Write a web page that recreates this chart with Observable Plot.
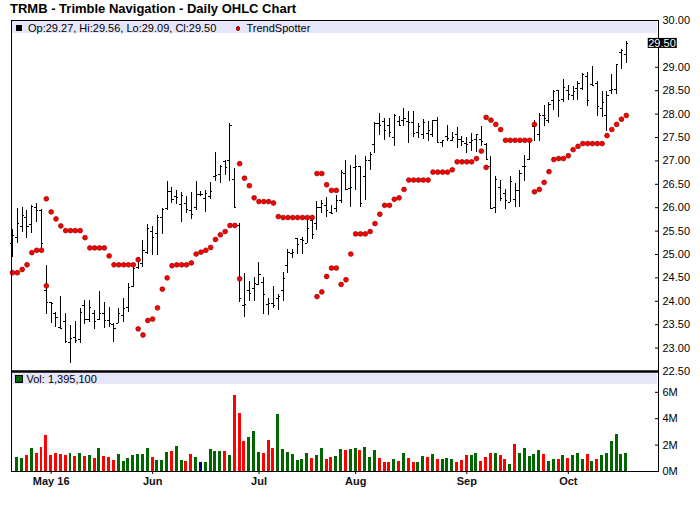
<!DOCTYPE html>
<html><head><meta charset="utf-8">
<script src="https://cdn.jsdelivr.net/npm/d3@7"></script>
<script src="https://cdn.jsdelivr.net/npm/@observablehq/plot@0.6"></script>
<style>
body{margin:0;background:#fff;font-family:"Liberation Sans",Arial,sans-serif;color:#000;}
#wrap{position:relative;width:700px;height:512px;overflow:hidden;background:#fff;}
#wrap svg{position:absolute;left:0;}
#title{position:absolute;left:10px;top:0.5px;font-weight:bold;font-size:13px;line-height:15px;white-space:nowrap;}
.band{position:absolute;left:12px;width:645px;background:#e6e6fa;}
.lbl{position:absolute;font-size:11px;line-height:12px;white-space:nowrap;}
.sq{position:absolute;}
</style></head>
<body>
<div id="wrap">
  <div id="title">TRMB - Trimble Navigation - Daily OHLC Chart</div>
</div>
<script>
// ---- data (Apr 20 2016 .. Oct 19 2016, trading-day index) ----
const open = [25.23,25.36,25.60,25.80,25.64,26.00,25.93,24.23,23.97,23.73,
23.44,23.56,23.11,23.22,23.19,23.91,23.62,23.75,23.62,23.73,
23.59,23.50,23.53,23.70,23.87,24.31,24.73,24.80,25.05,25.50,
25.44,25.79,25.99,26.35,26.24,26.06,26.10,25.95,26.00,26.29,
26.19,26.23,26.67,26.71,26.98,27.00,26.61,25.62,23.91,24.23,
24.28,24.36,24.41,23.93,23.95,24.05,24.23,24.76,25.03,25.34,
25.32,25.24,25.73,25.67,26.00,26.05,25.89,25.98,26.16,26.74,
26.41,26.86,26.87,26.66,27.00,27.34,27.79,27.84,27.76,27.51,
27.84,27.87,27.84,27.81,27.61,27.57,27.59,27.57,27.87,27.39,
27.53,27.44,27.57,27.46,27.37,27.39,27.46,27.46,27.34,26.87,
26.00,26.44,26.30,26.12,26.17,26.37,26.89,27.04,27.73,27.57,
27.96,27.87,28.30,28.50,28.31,28.51,28.39,28.55,28.55,28.80,
28.64,28.66,28.12,27.98,28.51,28.53,29.31,29.27];
const high = [25.54,25.98,26.00,25.94,26.05,26.09,25.96,24.76,23.98,23.76,
24.10,23.75,23.48,23.56,23.84,24.01,24.01,23.80,24.21,23.97,
23.87,23.52,23.84,24.05,24.39,24.78,24.94,25.29,25.64,25.59,
25.84,25.98,26.55,26.43,26.37,26.33,26.24,26.33,26.56,26.34,
26.37,26.54,27.17,26.91,27.01,27.80,26.84,25.66,24.59,24.42,
24.51,24.82,24.51,24.06,24.31,24.14,24.61,25.10,25.10,25.35,
25.37,25.80,25.84,26.14,26.16,26.21,26.05,26.27,26.80,27.00,
26.91,27.12,26.89,27.09,27.19,27.82,28.01,27.91,27.91,27.99,
27.94,28.11,28.05,28.06,27.80,27.89,27.84,27.87,27.93,27.44,
27.75,27.61,27.72,27.53,27.51,27.59,27.57,27.73,27.37,27.10,
26.67,26.59,26.39,26.67,26.51,26.80,27.12,27.46,27.87,28.01,
28.19,28.24,28.50,28.51,28.73,28.62,28.60,28.69,28.86,28.89,
29.01,28.69,28.48,28.48,28.84,29.05,29.39,29.56];
const low = [24.94,25.24,25.48,25.35,25.44,25.69,25.09,23.71,23.53,23.44,
23.41,23.10,22.68,23.09,23.10,23.51,23.55,23.39,23.60,23.42,
23.44,23.12,23.52,23.55,23.77,24.30,24.69,24.73,24.99,24.98,
24.98,25.43,25.93,26.10,26.07,25.69,25.87,25.75,25.94,26.23,
25.89,26.18,26.55,26.51,26.69,26.55,26.00,23.98,23.66,23.99,
23.99,24.34,23.71,23.69,23.84,23.80,24.00,24.60,24.91,25.00,
25.00,25.23,25.32,25.52,25.87,25.79,25.85,25.89,26.10,26.37,
26.00,26.37,26.00,26.16,26.80,27.16,27.55,27.43,27.51,27.30,
27.73,27.74,27.37,27.51,27.48,27.46,27.42,27.51,27.37,27.28,
27.41,27.41,27.27,27.31,27.16,27.21,27.18,27.30,27.03,25.96,
25.87,26.14,25.96,26.11,26.01,26.01,26.57,27.01,27.41,27.41,
27.73,27.80,28.08,27.92,28.24,28.30,28.29,28.30,28.51,28.16,
28.60,27.94,27.93,27.63,28.42,28.42,28.96,29.09];
const close = [25.41,25.66,25.83,25.60,26.02,25.94,25.23,23.98,23.95,23.66,
23.42,23.14,23.21,23.17,23.77,23.62,23.87,23.57,23.74,23.59,
23.53,23.41,23.73,23.85,24.30,24.71,24.89,25.09,25.55,25.36,
25.80,25.96,26.35,26.17,26.22,26.26,25.96,25.85,26.28,26.28,
26.30,26.35,26.69,26.87,26.85,27.76,26.01,24.07,23.93,24.16,
24.39,24.57,24.14,23.96,23.90,24.10,24.48,25.04,25.05,25.22,
25.29,25.56,25.43,26.00,26.09,25.94,25.87,26.16,26.76,26.39,
26.44,26.87,26.09,27.00,27.14,27.80,27.76,27.64,27.60,27.96,
27.76,27.91,27.81,27.59,27.74,27.81,27.66,27.86,27.39,27.43,
27.48,27.50,27.46,27.41,27.36,27.44,27.56,27.41,27.04,25.98,
26.60,26.19,26.15,26.55,26.37,26.73,26.87,27.42,27.78,27.98,
27.91,28.21,28.48,28.30,28.57,28.41,28.48,28.66,28.85,28.30,
28.62,28.17,28.25,28.39,28.53,29.05,29.35,29.50];
const volumeM = [null,1.06,0.98,1.21,1.74,1.36,1.82,2.73,1.21,1.36,
1.29,1.21,1.36,1.14,1.36,1.14,1.21,0.98,1.74,1.14,
1.06,0.83,1.29,0.76,0.98,1.21,1.29,1.29,1.74,1.06,
0.83,0.83,1.44,1.52,1.89,0.83,0.76,1.29,1.06,0.68,
0.68,1.67,1.52,1.52,1.52,1.21,5.76,4.39,2.27,2.58,
3.03,1.44,1.36,2.35,1.74,4.32,1.67,1.44,1.29,0.83,
0.91,1.36,0.98,1.21,1.74,0.91,1.06,1.14,1.67,1.59,
1.67,1.74,1.59,1.82,1.06,1.59,0.98,0.68,0.68,0.91,
0.76,1.36,0.98,0.68,0.68,1.14,1.06,1.29,0.91,0.91,
0.98,0.91,0.68,0.83,1.21,1.21,1.36,0.76,1.06,1.36,
1.36,1.21,0.91,0.53,2.05,1.36,1.74,1.14,1.29,1.59,
1.29,0.76,0.91,0.91,1.21,0.98,1.21,1.36,0.91,1.29,
0.76,0.91,1.21,1.36,2.27,2.80,1.29,1.3951];
const trendMain = [24.61,24.61,24.68,24.78,25.04,25.09,25.09,26.19,25.91,25.76,
25.61,25.51,25.51,25.51,25.51,25.36,25.14,25.14,25.14,25.14,
24.97,24.78,24.78,24.78,24.78,24.78,23.41,23.28,23.59,23.62,
23.86,24.26,24.50,24.76,24.78,24.78,24.78,24.82,25.01,25.05,
25.09,25.15,25.32,25.42,25.49,25.62,25.62,26.94,26.63,26.47,
26.21,26.13,26.13,26.13,26.10,25.81,25.79,25.79,25.79,25.79,
25.79,25.79,25.79,24.10,24.20,24.53,24.71,24.71,24.36,24.46,
25.01,25.44,25.44,25.44,25.49,25.66,25.86,26.05,26.05,26.18,
26.21,26.39,26.59,26.59,26.59,26.59,26.59,26.76,26.76,26.76,
26.76,26.81,26.98,26.98,26.98,26.98,27.05,27.21,27.93,27.87,
27.78,27.67,27.44,27.44,27.44,27.44,27.44,27.44,26.34,26.39,
26.54,26.77,27.03,27.05,27.05,27.11,27.24,27.31,27.37,27.37,
27.37,27.37,27.37,27.54,27.67,27.78,27.89,27.97];
const trendAltIdx = [7,26,47,63,64,65,66,67,98,108];
const trendAltVal = [24.33,24.89,24.48,26.73,26.73,26.49,26.37,26.37,26.86,27.78];
const monthTickIdx = [8,29,51,71,94,115];
const monthLabels = ["May 16","Jun","Jul","Aug","Sep","Oct"];
const priceTicks = [22.5,23,23.5,24,24.5,25,25.5,26,26.5,27,27.5,28,28.5,29,29.5,30];
const volTicks = [0,2,4,6];
const lastVolume = 1395100;

// ---- build ----
const N = close.length;
const lastClose = close[N-1];
const bars = d3.range(N).map(i => ({i, o: open[i], h: high[i], l: low[i], c: close[i]}));
const dots = trendMain.map((v, i) => ({i, v}))
  .concat(trendAltIdx.map((i, k) => ({i, v: trendAltVal[k]})));
const volData = d3.range(N).filter(i => volumeM[i] != null).map(i => ({
  i, v: volumeM[i],
  col: i === 0 ? "#006600" : close[i] > close[i-1] ? "#006600" : close[i] < close[i-1] ? "#ff0000" : "#000080"
}));
const xDomain = [-0.207, 133.66];
const font = "'Liberation Sans', Arial, sans-serif";

const price = Plot.plot({
  width: 700, height: 372, marginTop: 20, marginBottom: 1, marginLeft: 11, marginRight: 42,
  x: {domain: xDomain, axis: null},
  y: {domain: [22.5, 30], axis: null},
  style: {background: "transparent", fontFamily: font, fontSize: "11px", overflow: "visible"},
  marks: [
    Plot.ruleX(bars, {x: "i", y1: "l", y2: "h", stroke: "#000", strokeWidth: 1, shapeRendering: "crispEdges"}),
    Plot.ruleY(bars, {y: "o", x1: d => d.i - 0.42, x2: "i", stroke: "#000", strokeWidth: 1, shapeRendering: "crispEdges"}),
    Plot.ruleY(bars, {y: "c", x1: "i", x2: d => d.i + 0.42, stroke: "#000", strokeWidth: 1, shapeRendering: "crispEdges"}),
    Plot.dot(dots, {x: "i", y: "v", r: 2.4, fill: "#ff0000", stroke: "#8b0000", strokeWidth: 0.7}),
    Plot.axisY({anchor: "right", ticks: priceTicks, label: null,
      tickFormat: d => (Math.abs(d - lastClose) < 1e-9 ? "" : d.toFixed(2)),
      tickSize: 4, dx: -4, tickPadding: 4, fill: "#000", stroke: "#000"}),
    Plot.frame({stroke: "#000", shapeRendering: "crispEdges"}),
    Plot.ruleY([22.5], {stroke: "#000", strokeWidth: 2.5})
  ]
});
price.style.top = "0px";

const vol = Plot.plot({
  width: 700, height: 141, marginTop: 0, marginBottom: 41, marginLeft: 11, marginRight: 42,
  x: {domain: xDomain, axis: null},
  y: {domain: [0, 7.576], axis: null},
  style: {background: "transparent", fontFamily: font, fontSize: "11px", overflow: "visible"},
  marks: [
    Plot.rectY(volData, {x1: d => d.i - 0.31, x2: d => d.i + 0.31, y1: 0, y2: "v", fill: "col", shapeRendering: "crispEdges"}),
    Plot.axisY({anchor: "right", ticks: volTicks, label: null, tickFormat: d => d + "M", tickSize: 4, dx: -4, tickPadding: 4}),
    Plot.axisX({anchor: "bottom", ticks: monthTickIdx, label: null, tickFormat: d => monthLabels[monthTickIdx.indexOf(d)], tickSize: 3, tickPadding: 3, fontWeight: "bold", fill: "#111"}),
    Plot.frame({stroke: "#000", shapeRendering: "crispEdges"})
  ]
});
vol.style.top = "371px";

const wrap = document.getElementById("wrap");
wrap.appendChild(price);
wrap.appendChild(vol);

// current-close highlight on the price axis
{
  const yPix = price.scale("y").apply(lastClose);
  const xPix = price.scale("x").range[1];
  const g = d3.select(price).append("g");
  const t = g.append("text").attr("x", xPix + 4).attr("y", yPix).attr("dy", "0.32em")
    .attr("fill", "#fff").attr("font-size", 11).text(lastClose.toFixed(2));
  const bb = t.node().getBBox();
  g.insert("rect", "text").attr("x", bb.x - 0.5).attr("y", bb.y + 1).attr("width", bb.width + 1.5).attr("height", bb.height - 2).attr("fill", "#000");
}

// legends (HTML overlays)
function el(tag, cls, styles, text) {
  const e = document.createElement(tag);
  if (cls) e.className = cls;
  Object.assign(e.style, styles);
  if (text != null) e.textContent = text;
  wrap.appendChild(e);
  return e;
}
el("div", "band", {top: "21px", height: "12px"});
el("div", "sq", {left: "16px", top: "25px", width: "6px", height: "6px", background: "#000"});
el("div", "lbl", {left: "28px", top: "22px"},
  `Op:${open[N-1].toFixed(2)}, Hi:${high[N-1].toFixed(2)}, Lo:${low[N-1].toFixed(2)}, Cl:${lastClose.toFixed(2)}`);
el("div", "sq", {left: "235.6px", top: "25.9px", width: "4.8px", height: "4.8px", borderRadius: "50%", background: "#ff0000", boxSizing: "border-box", border: "0.7px solid #8b0000"});
el("div", "lbl", {left: "246.5px", top: "22px"}, "TrendSpotter");

el("div", "band", {top: "372.5px", height: "11px"});
el("div", "sq", {left: "15px", top: "375px", width: "8px", height: "8px", background: "#006600", boxSizing: "border-box", border: "1px solid #000"});
el("div", "lbl", {left: "26.5px", top: "373px"}, "Vol: " + d3.format(",")(lastVolume));
</script>
</body></html>
